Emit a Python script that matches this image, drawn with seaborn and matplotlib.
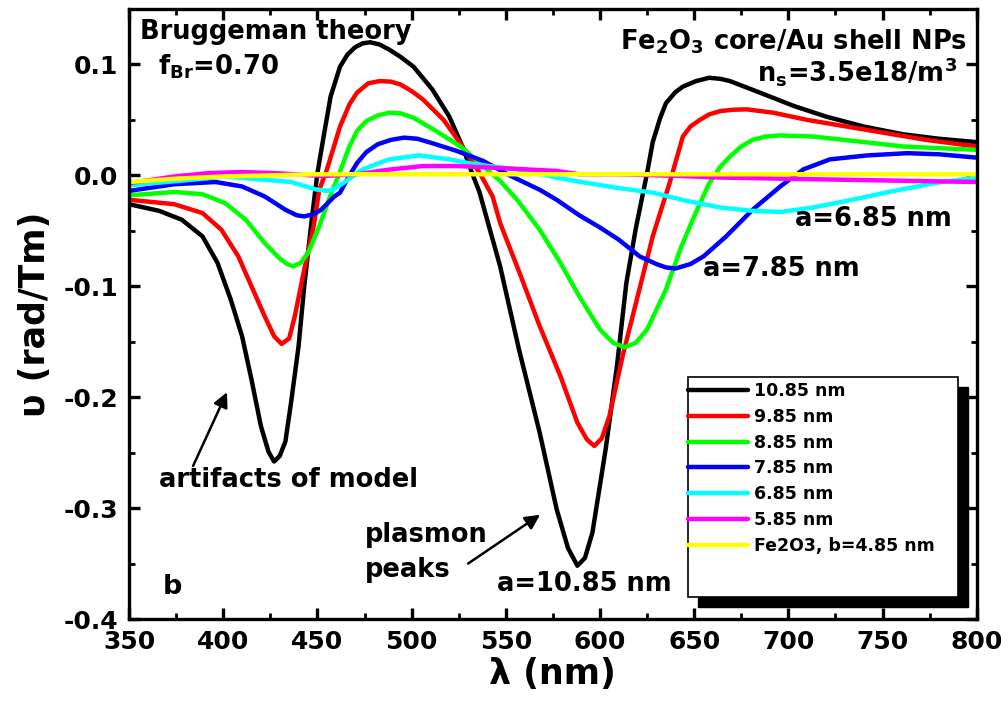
import numpy as np
import pandas as pd
import matplotlib
matplotlib.use("Agg")
import matplotlib.pyplot as plt
from matplotlib.patches import Rectangle
import seaborn as sns

# ---------------- data ----------------
x_1085 = [350, 366, 378, 389, 397, 404, 410, 415, 420, 424, 427, 430, 433, 436, 440, 443, 447, 450,
          453, 457, 462, 466, 470, 474, 478, 483, 488, 494, 501, 511, 520, 527, 532, 536, 547, 557,
          568, 577, 583, 588, 592, 596, 603, 609, 614, 619, 625, 628, 632, 635, 640, 644, 651, 658,
          664, 669, 685, 703, 720, 740, 761, 780, 800]
y_1085 = [-0.026, -0.032, -0.040, -0.055, -0.079, -0.112, -0.145, -0.184, -0.226, -0.249, -0.258,
          -0.253, -0.240, -0.205, -0.154, -0.100, -0.040, 0.002, 0.032, 0.071, 0.098, 0.109, 0.1155,
          0.119, 0.120, 0.118, 0.1135, 0.107, 0.098, 0.0775, 0.053, 0.026, 0.0025, -0.015, -0.082,
          -0.157, -0.232, -0.301, -0.336, -0.352, -0.345, -0.322, -0.247, -0.172, -0.097, -0.048,
          0.002, 0.030, 0.052, 0.065, 0.075, 0.080, 0.085, 0.088, 0.087, 0.085, 0.0745, 0.0625,
          0.053, 0.044, 0.037, 0.033, 0.030]

x_985 = [350, 374, 389, 399, 408, 415, 422, 427, 431, 435, 438, 443, 448, 451, 455, 462, 467, 471,
         477, 483, 489, 494, 500, 506, 517, 527, 536, 543, 547, 558, 568, 579, 588, 593, 597, 601,
         605, 612, 620, 628, 637, 644, 648, 653, 658, 664, 671, 678, 692, 710, 731, 752, 773, 800]
y_985 = [-0.022, -0.026, -0.034, -0.049, -0.073, -0.100, -0.127, -0.145, -0.152, -0.147, -0.127,
         -0.085, -0.046, -0.013, 0.005, 0.044, 0.064, 0.0745, 0.083, 0.085, 0.0845, 0.082, 0.076,
         0.0685, 0.050, 0.026, 0.0025, -0.019, -0.043, -0.091, -0.136, -0.181, -0.223, -0.238,
         -0.244, -0.237, -0.217, -0.163, -0.109, -0.055, -0.0066, 0.035, 0.044, 0.050, 0.055, 0.058,
         0.0592, 0.0595, 0.0565, 0.050, 0.044, 0.038, 0.032, 0.026]

x_885 = [350, 374, 389, 401, 412, 422, 430, 434, 437, 441, 445, 451, 456, 461, 467, 471, 476, 482,
         488, 494, 501, 513, 526, 536, 547, 556, 568, 579, 589, 600, 607, 613, 619, 625, 635, 643,
         650, 658, 664, 669, 675, 681, 688, 696, 713, 735, 761, 800]
y_885 = [-0.018, -0.015, -0.017, -0.025, -0.040, -0.061, -0.075, -0.080, -0.082, -0.079, -0.070,
         -0.046, -0.022, -0.001, 0.026, 0.040, 0.049, 0.054, 0.0565, 0.056, 0.052, 0.040, 0.026,
         0.0114, -0.005, -0.022, -0.049, -0.079, -0.109, -0.139, -0.151, -0.155, -0.151, -0.139,
         -0.103, -0.065, -0.037, -0.007, 0.008, 0.017, 0.026, 0.032, 0.035, 0.036, 0.035, 0.031,
         0.026, 0.023]

x_785 = [350, 374, 396, 410, 422, 433, 439, 443, 448, 452, 459, 462, 466, 471, 476, 482, 489, 496,
         503, 510, 524, 538, 552, 568, 577, 589, 600, 610, 621, 630, 635, 640, 648, 655, 667, 681,
         696, 708, 722, 742, 763, 780, 800]
y_785 = [-0.014, -0.008, -0.006, -0.010, -0.019, -0.031, -0.036, -0.037, -0.035, -0.031, -0.019,
         -0.0156, -0.003, 0.011, 0.021, 0.028, 0.032, 0.034, 0.033, 0.0295, 0.022, 0.013, 0.000,
         -0.013, -0.022, -0.036, -0.047, -0.058, -0.073, -0.080, -0.083, -0.084, -0.080, -0.073,
         -0.055, -0.031, -0.0096, 0.0054, 0.0144, 0.018, 0.020, 0.019, 0.016]

x_685 = [350, 383, 401, 422, 436, 449, 455, 458, 464, 474, 488, 504, 520, 534, 556, 577, 590, 608,
         628, 646, 664, 681, 696, 713, 735, 756, 779, 800]
y_685 = [-0.009, -0.004, -0.001, -0.004, -0.006, -0.0126, -0.014, -0.013, -0.0066, 0.0054, 0.0144,
         0.018, 0.0144, 0.0099, 0.0054, -0.002, -0.006, -0.011, -0.0156, -0.023, -0.029, -0.032,
         -0.033, -0.029, -0.0216, -0.014, -0.0066, -0.002]

x_585 = [350, 374, 392, 410, 428, 447, 453, 471, 489, 506, 524, 542, 577, 589, 610, 643, 664, 717, 800]
y_585 = [-0.007, -0.001, 0.002, 0.003, 0.002, 0.0, -0.0006, 0.001, 0.0054, 0.0084, 0.0084, 0.007,
         0.004, 0.001, 0.001, -0.0006, -0.002, -0.0036, -0.006]

x_fe = [350, 375, 400, 425, 450, 500, 600, 700, 800]
y_fe = [-0.006, -0.003, -0.001, 0.0, 0.001, 0.001, 0.001, 0.001, 0.001]

labels = ["10.85 nm", "9.85 nm", "8.85 nm", "7.85 nm", "6.85 nm", "5.85 nm", "Fe2O3, b=4.85 nm"]
colors = ["#000000", "#ff0000", "#00ff00", "#0000ff", "#00ffff", "#ff00ff", "#ffff00"]
xs = [x_1085, x_985, x_885, x_785, x_685, x_585, x_fe]
ys = [y_1085, y_985, y_885, y_785, y_685, y_585, y_fe]

x_ticks = [350, 400, 450, 500, 550, 600, 650, 700, 750, 800]
y_ticks = [-0.4, -0.3, -0.2, -0.1, 0.0, 0.1]

# ---------------- style ----------------
sns.set_style("ticks")
plt.rcParams["font.family"] = ["DejaVu Sans"]
plt.rcParams["font.weight"] = "bold"
plt.rcParams["axes.unicode_minus"] = False
plt.rcParams["mathtext.fontset"] = "dejavusans"
plt.rcParams["mathtext.default"] = "bf"
for k in ["text.color", "axes.labelcolor", "xtick.color", "ytick.color",
          "xtick.labelcolor", "ytick.labelcolor", "axes.edgecolor"]:
    plt.rcParams[k] = "black"

fig = plt.figure(figsize=(10.08, 7.08), dpi=100)
ax = fig.add_axes([0.128, 0.1257, 0.841, 0.8616])

for xv, yv, lab, col in zip(xs, ys, labels, colors):
    df = pd.DataFrame({"x": xv, "y": yv})
    sns.lineplot(data=df, x="x", y="y", color=col, lw=3.2, label=lab, ax=ax,
                 legend=False, solid_joinstyle="round", solid_capstyle="round")

ax.set_xlim(350, 800)
ax.set_ylim(-0.4, 0.15)
ax.set_xticks(x_ticks)
ax.set_yticks(y_ticks)
ax.set_xticks(np.arange(375, 800, 50), minor=True)
ax.set_yticks([-0.35, -0.25, -0.15, -0.05, 0.05, 0.15], minor=True)
ax.set_yticklabels([f"{v:.1f}" for v in y_ticks])
ax.set_xticklabels([str(v) for v in x_ticks])

for s in ax.spines.values():
    s.set_linewidth(2.4)
    s.set_color("black")
    s.set_visible(True)
ax.tick_params(which="both", direction="in", top=True, right=True, color="black",
               labelcolor="black")
ax.tick_params(which="major", length=8, width=2.4, labelsize=18, pad=8)
ax.tick_params(which="minor", length=4.5, width=2.0)
for lbl in ax.get_xticklabels() + ax.get_yticklabels():
    lbl.set_fontweight("bold")

ax.set_xlabel("λ (nm)", fontsize=25, fontweight="bold", labelpad=2, color="black")
ax.set_ylabel("υ (rad/Tm)", fontsize=25, fontweight="bold", labelpad=8, color="black")

# ---------------- annotations ----------------
fs = 18.5
ax.text(355.8, 0.1225, "Bruggeman theory", fontsize=fs, fontweight="bold", va="baseline")
ax.text(365.4, 0.091, r"f$_{Br}$=0.70", fontsize=fs, fontweight="bold", va="baseline")
ax.text(795, 0.1135, r"Fe$_2$O$_3$ core/Au shell NPs", fontsize=fs, fontweight="bold",
        va="baseline", ha="right")
ax.text(789.5, 0.0847, r"n$_s$=3.5e18/m$^3$", fontsize=fs, fontweight="bold",
        va="baseline", ha="right")
ax.text(703.5, -0.046, "a=6.85 nm", fontsize=fs, fontweight="bold", va="baseline")
ax.text(654.7, -0.091, "a=7.85 nm", fontsize=fs, fontweight="bold", va="baseline")
ax.text(545.3, -0.375, "a=10.85 nm", fontsize=fs, fontweight="bold", va="baseline")
ax.text(366, -0.281, "artifacts of model", fontsize=fs, fontweight="bold", va="baseline")
ax.text(475.3, -0.331, "plasmon", fontsize=fs, fontweight="bold", va="baseline")
ax.text(475.3, -0.362, "peaks", fontsize=fs, fontweight="bold", va="baseline")
ax.text(368, -0.3775, "b", fontsize=fs + 1, fontweight="bold", va="baseline")

arrow = dict(arrowstyle="-|>", lw=1.8, color="black", mutation_scale=22,
             shrinkA=0, shrinkB=0)
ax.annotate("", xy=(402, -0.1955), xytext=(384, -0.262), arrowprops=arrow)
ax.annotate("", xy=(568.2, -0.306), xytext=(530, -0.350), arrowprops=arrow)

# ---------------- legend with black drop shadow ----------------
fx, fy, fw, fh = 0.659, 0.036, 0.3184, 0.3607
ax.add_patch(Rectangle((fx + 0.0118, fy - 0.0164), fw, fh, transform=ax.transAxes,
                       facecolor="black", edgecolor="black", zorder=5, clip_on=False))
ax.add_patch(Rectangle((fx, fy), fw, fh, transform=ax.transAxes,
                       facecolor="white", edgecolor="black", lw=1.2, zorder=6, clip_on=False))
leg = ax.legend(loc="upper left", bbox_to_anchor=(fx, 0.3885), frameon=False,
                borderpad=0, borderaxespad=0, handlelength=3.45, handletextpad=0.35,
                labelspacing=0.45, prop={"size": 12.5, "weight": "bold"})
leg.set_zorder(7)
for h in leg.get_lines():
    h.set_linewidth(3.2)
for t in leg.get_texts():
    t.set_color("black")

fig.savefig("out.png", dpi=100)
